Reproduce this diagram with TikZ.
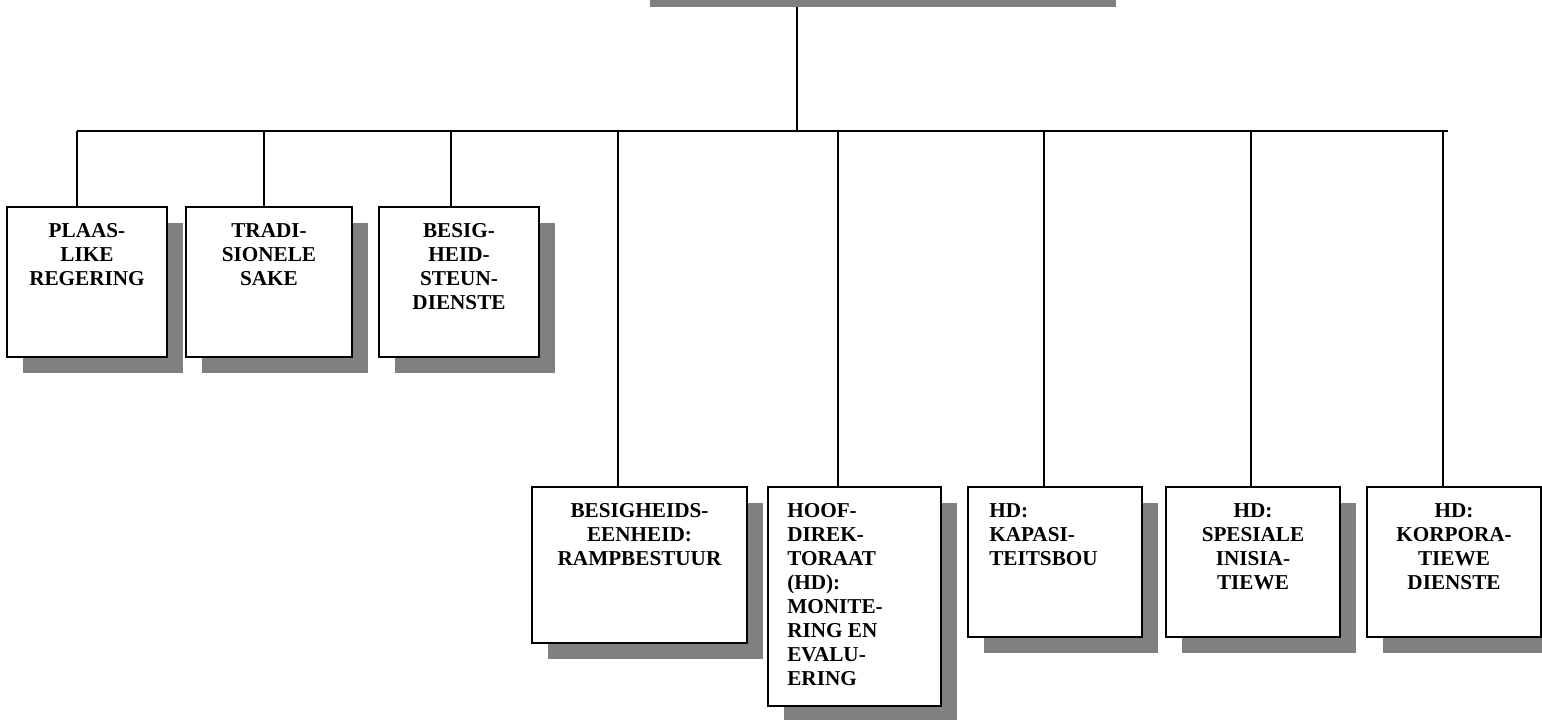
\documentclass[tikz,border=0pt]{standalone}
\usepackage{fontspec}
\setmainfont{Liberation Serif}
\usetikzlibrary{shadows,backgrounds}

\begin{document}
\begin{tikzpicture}[x=0.5pt,y=-0.5pt]
		\tikzstyle{unit}=[draw=black, line width=1.1pt, fill=white, inner sep=0pt,
			general shadow={fill=black!50, shadow xshift=8pt, shadow yshift=-8pt}]
		\tikzstyle{lbl}=[inner sep=0pt, align=center, anchor=north, yshift=-8.5pt,
			font=\fontsize{10.6}{12}\selectfont\bfseries]
		\tikzstyle{lbll}=[lbl, align=left, anchor=north west]
		\tikzstyle{link}=[black, line width=1pt]
		\useasboundingbox (0,0) rectangle (1542,719);
		% top box, only its shadow is in view
		\node [unit, minimum width=233pt, minimum height=30pt] (top) at (867,-39) {};
		% upper row
		\node [unit, minimum width=80pt, minimum height=75pt] (plaas) at (87,282) {};
		\node [lbl] at (plaas.north) {PLAAS-\\LIKE\\REGERING};
		\node [unit, minimum width=83pt, minimum height=75pt] (tradi) at (269,282) {};
		\node [lbl] at (tradi.north) {TRADI-\\SIONELE\\SAKE};
		\node [unit, minimum width=80pt, minimum height=75pt] (steun) at (459,282) {};
		\node [lbl] at (steun.north) {BESIG-\\HEID-\\STEUN-\\DIENSTE};
		% lower row
		\node [unit, minimum width=107.5pt, minimum height=78pt] (ramp) at (639.5,565) {};
		\node [lbl] at (ramp.north) {BESIGHEIDS-\\EENHEID:\\RAMPBESTUUR};
		\node [unit, minimum width=86.5pt, minimum height=109.5pt] (monev) at (854.5,596.5) {};
		\node [lbll, xshift=10pt] at (monev.north west) {HOOF-\\DIREK-\\TORAAT\\(HD):\\MONITE-\\RING EN\\EVALU-\\ERING};
		\node [unit, minimum width=87pt, minimum height=75pt] (kapbou) at (1055,562) {};
		\node [lbll, xshift=11pt] at (kapbou.north west) {HD:\\KAPASI-\\TEITSBOU};
		\node [unit, minimum width=87pt, minimum height=75pt] (spesini) at (1253,562) {};
		\node [lbl] at (spesini.north) {HD:\\SPESIALE\\INISIA-\\TIEWE};
		\node [unit, minimum width=87pt, minimum height=75pt] (korpdie) at (1454,562) {};
		\node [lbl] at (korpdie.north) {HD:\\KORPORA-\\TIEWE\\DIENSTE};
		% bus and drops
		\coordinate (b0) at (797,131);
		\coordinate (b1) at (77,131);
		\coordinate (b2) at (264,131);
		\coordinate (b3) at (451,131);
		\coordinate (b4) at (618,131);
		\coordinate (b5) at (838,131);
		\coordinate (b6) at (1044,131);
		\coordinate (b7) at (1251,131);
		\coordinate (b8) at (1443,131);
		\coordinate (bend) at (1448,131);
		\begin{scope}[on background layer]
			\draw [link] (top.south -| b0) -- (b0);
			\draw [link] (b1) -- (bend);
			\draw [link] (b1) -- (b1 |- plaas.north);
			\draw [link] (b2) -- (b2 |- tradi.north);
			\draw [link] (b3) -- (b3 |- steun.north);
			\draw [link] (b4) -- (b4 |- ramp.north);
			\draw [link] (b5) -- (b5 |- monev.north);
			\draw [link] (b6) -- (b6 |- kapbou.north);
			\draw [link] (b7) -- (b7 |- spesini.north);
			\draw [link] (b8) -- (b8 |- korpdie.north);
		\end{scope}
	\end{tikzpicture}
\end{document}
